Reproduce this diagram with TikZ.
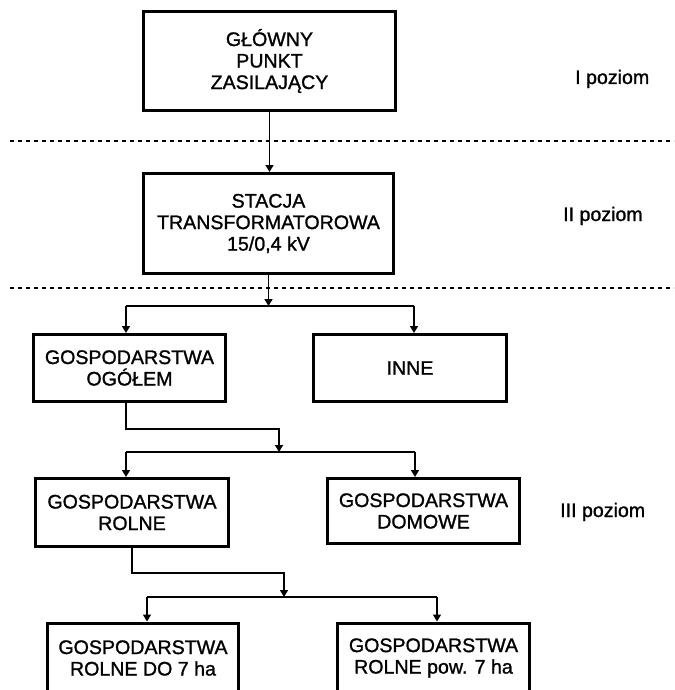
\documentclass[tikz,border=0pt]{standalone}
\usepackage{fontspec}
\setmainfont{Liberation Sans}[FakeBold=1.2]
\usetikzlibrary{arrows.meta}
\begin{document}
\begin{tikzpicture}[x=1pt,y=-1pt,
    box/.style={draw,line width=3pt,inner sep=0pt,align=center,
      font=\fontsize{19.6}{21.5}\selectfont},
    level/.style={anchor=base west,inner sep=0pt,font=\fontsize{19.6}{21.5}\selectfont},
    link/.style={line width=1.5pt},
    arr/.style={line width=1.5pt,-{Triangle[width=8pt,length=7pt]}},
    sep/.style={line width=2pt,dash pattern=on 4pt off 4pt}]
  \useasboundingbox(0,0)rectangle(674,690);
  \clip(0,0)rectangle(674,690);

  \node[box,minimum width=252pt,minimum height=99pt](glowny)at(269.5,61){GŁÓWNY\\PUNKT\\ZASILAJĄCY};
  \node[box,minimum width=250pt,minimum height=100pt](stacja)at(268.5,223.5){STACJA\\TRANSFORMATOROWA\\15/0,4 kV};
  \node[box,minimum width=192pt,minimum height=67pt](ogolem)at(129.5,368){GOSPODARSTWA\\OGÓŁEM};
  \node[box,minimum width=193pt,minimum height=67pt](inne)at(410,368){INNE};
  \node[box,minimum width=193pt,minimum height=68pt](rolne)at(132,512.5){GOSPODARSTWA\\ROLNE};
  \node[box,minimum width=192pt,minimum height=65pt](domowe)at(423.5,511){GOSPODARSTWA\\DOMOWE};
  \node[box,minimum width=191pt,minimum height=70pt](male)at(143,658){GOSPODARSTWA\\ROLNE DO 7 ha};
  \node[box,minimum width=192pt,minimum height=70pt](duze)at(433.5,658){GOSPODARSTWA\\ROLNE pow. 7 ha};

  \node[level](poz1)at(575,84){I poziom};
  \node[level](poz2)at(563,221){II poziom};
  \node[level](poz3)at(560,517){III poziom};

  \draw[sep](10,141)--(674,141);
  \draw[sep](10,288)--(674,288);

  \draw[arr](glowny.south)--(glowny.south|-stacja.north);

  \coordinate(b1l)at(126,306);
  \coordinate(b1r)at(414,306);
  \draw[arr](stacja.south)--(stacja.south|-b1l);
  \draw[link](b1l)--(b1r);
  \draw[arr](b1l)--(b1l|-ogolem.north);
  \draw[arr](b1r)--(b1r|-inne.north);

  \coordinate(k2)at(279,429);
  \coordinate(b2l)at(126,452);
  \coordinate(b2r)at(415,452);
  \draw[arr](b2l|-ogolem.south)|-(k2)--(k2|-b2l);
  \draw[link](b2l)--(b2r);
  \draw[arr](b2l)--(b2l|-rolne.north);
  \draw[arr](b2r)--(b2r|-domowe.north);

  \coordinate(k3)at(284,573);
  \coordinate(b3l)at(147,597);
  \coordinate(b3r)at(437,597);
  \draw[arr](rolne.south)|-(k3)--(k3|-b3l);
  \draw[link](b3l)--(b3r);
  \draw[arr](b3l)--(b3l|-male.north);
  \draw[arr](b3r)--(b3r|-duze.north);
\end{tikzpicture}
\end{document}
